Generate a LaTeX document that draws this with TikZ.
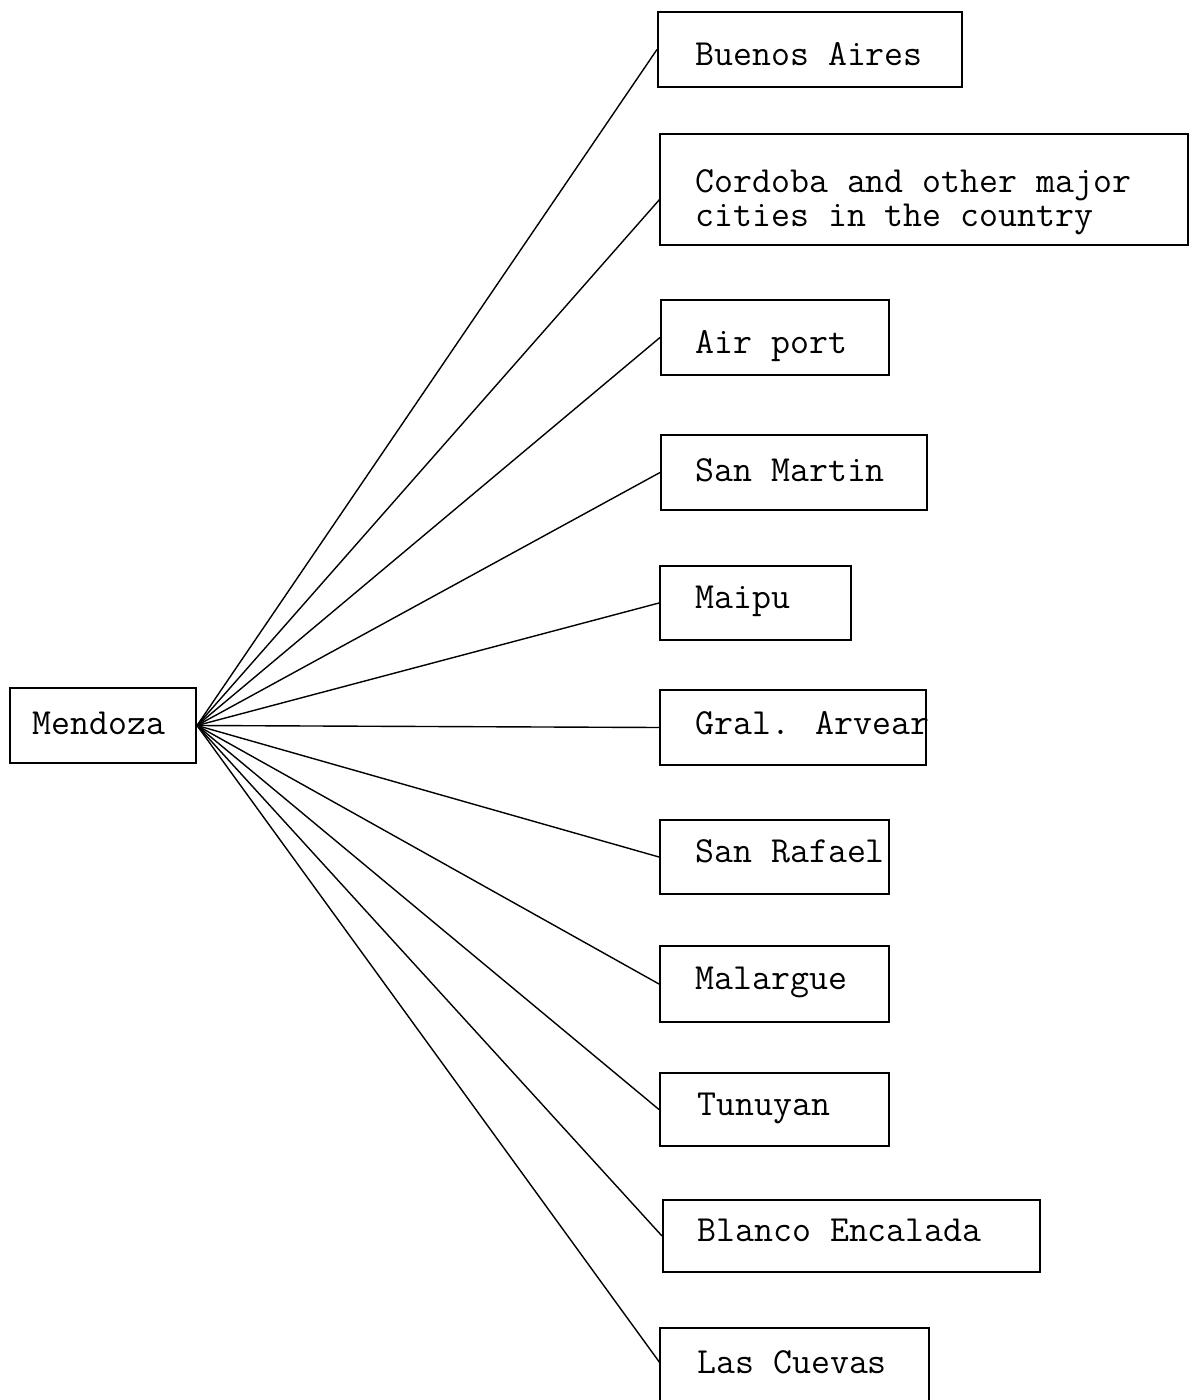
\documentclass[tikz,border=0pt]{standalone}
\usepackage{fontspec}
\usetikzlibrary{fit}
\begin{document}
\begin{tikzpicture}[x=0.5pt,y=-0.5pt,
  box/.style={draw=black, line width=1pt, rectangle, inner sep=0pt},
  lbl/.style={anchor=base west, inner sep=0pt, font=\ttfamily\fontsize{18.4}{16}\selectfont},
  link/.style={draw=black, line width=0.7pt}]
\useasboundingbox (0,0) rectangle (1193,1400);
\clip (0,0) rectangle (1193,1400);
% boxes
\node[box, fit={(10,688) (196,763)}] (men) {};
\node[box, fit={(658,12) (962,87)}] (ba) {};
\node[box, fit={(660,134) (1188,245)}] (cor) {};
\node[box, fit={(661,300) (889,375)}] (air) {};
\node[box, fit={(661,435) (927,510)}] (sma) {};
\node[box, fit={(660,566) (851,640)}] (mai) {};
\node[box, fit={(660,690) (926,765)}] (gra) {};
\node[box, fit={(660,820) (889,894)}] (sra) {};
\node[box, fit={(660,946) (889,1022)}] (mal) {};
\node[box, fit={(660,1073) (889,1146)}] (tun) {};
\node[box, fit={(663,1200) (1040,1272)}] (bla) {};
\node[box, fit={(660,1328) (929,1430)}] (lcu) {};
% labels
\node[lbl] (ment) at (32,734) {Mendoza};
\node[lbl] (bat) at (695,66) {Buenos Aires};
\node[lbl] (cort) at (695,193) {\begin{tabular}[t]{@{}l@{}}Cordoba and other major\\[0.5pt]cities in the country\end{tabular}};
\node[lbl] (airt) at (695,354) {Air port};
\node[lbl] (smat) at (695,481) {San Martin};
\node[lbl] (mait) at (695,608) {Maipu};
\node[lbl] (grat) at (695,734) {Gral. Arvear};
\node[lbl] (srat) at (695,862) {San Rafael};
\node[lbl] (malt) at (695,989) {Malargue};
\node[lbl] (tunt) at (697,1115) {Tunuyan};
\node[lbl] (blat) at (697,1241) {Blanco Encalada};
\node[lbl] (lcut) at (697,1373) {Las Cuevas};
% connectors
\coordinate (corin) at (660,199);
\coordinate (lcuin) at (660,1363);
\draw[link] (men.east) -- (ba.west);
\draw[link] (men.east) -- (corin);
\draw[link] (men.east) -- (air.west);
\draw[link] (men.east) -- (sma.west);
\draw[link] (men.east) -- (mai.west);
\draw[link] (men.east) -- (gra.west);
\draw[link] (men.east) -- (sra.west);
\draw[link] (men.east) -- (mal.west);
\draw[link] (men.east) -- (tun.west);
\draw[link] (men.east) -- (bla.west);
\draw[link] (men.east) -- (lcuin);
\end{tikzpicture}
\end{document}
